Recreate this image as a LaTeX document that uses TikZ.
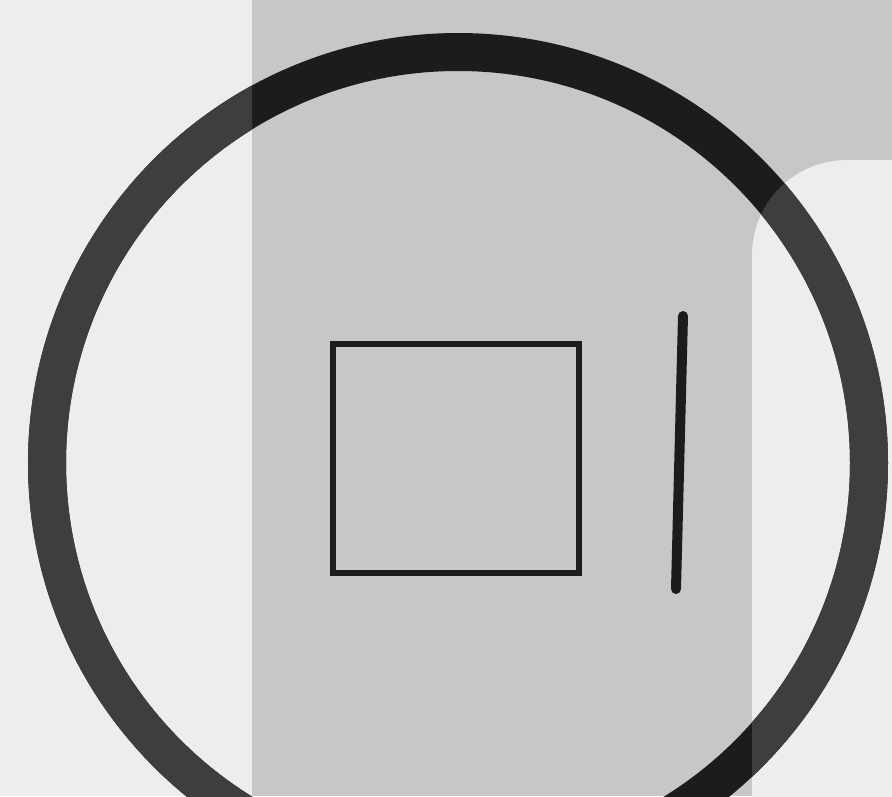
\documentclass[tikz,border=0pt]{standalone}
\usepackage{xcolor}
\usepackage{tikz}
\definecolor{paperlight}{HTML}{EDEDED}
\definecolor{papergray}{HTML}{C7C7C7}
\definecolor{inkdark}{HTML}{1C1C1C}
\definecolor{inkfaded}{HTML}{3E3E3E}

\begin{document}
\begin{tikzpicture}[
  x=1pt, y=-1pt,
  ring/.style={draw=inkdark, line width=38pt},
  frame/.style={draw=inkdark, line width=6pt},
  bar/.style={draw=inkdark, line width=10pt, line cap=round}
]
\useasboundingbox (0,0) rectangle (892,796);
\clip (0,0) rectangle (892,796);
% paper patches
\fill[paperlight] (0,0) rectangle (892,796);
\fill[papergray] (252,0) rectangle (892,796);
\fill[paperlight, rounded corners=95pt] (752,900) -- (752,160) -- (1000,160) -- (1000,900) -- cycle;
% outer ring
\coordinate (c) at (458,463);
\draw[ring] (c) circle[radius=411];
\begin{scope}
  \clip (0,0) rectangle (252,796);
  \draw[ring, draw=inkfaded] (c) circle[radius=411];
\end{scope}
\begin{scope}
  \clip[rounded corners=95pt] (752,900) -- (752,160) -- (1000,160) -- (1000,900) -- cycle;
  \draw[ring, draw=inkfaded] (c) circle[radius=411];
\end{scope}
% square and bar
\draw[frame] (333,344) rectangle (579,573);
\coordinate (bartop) at (683,316);
\coordinate (barbot) at (676,589);
\draw[bar] (bartop) -- (barbot);
\end{tikzpicture}
\end{document}
